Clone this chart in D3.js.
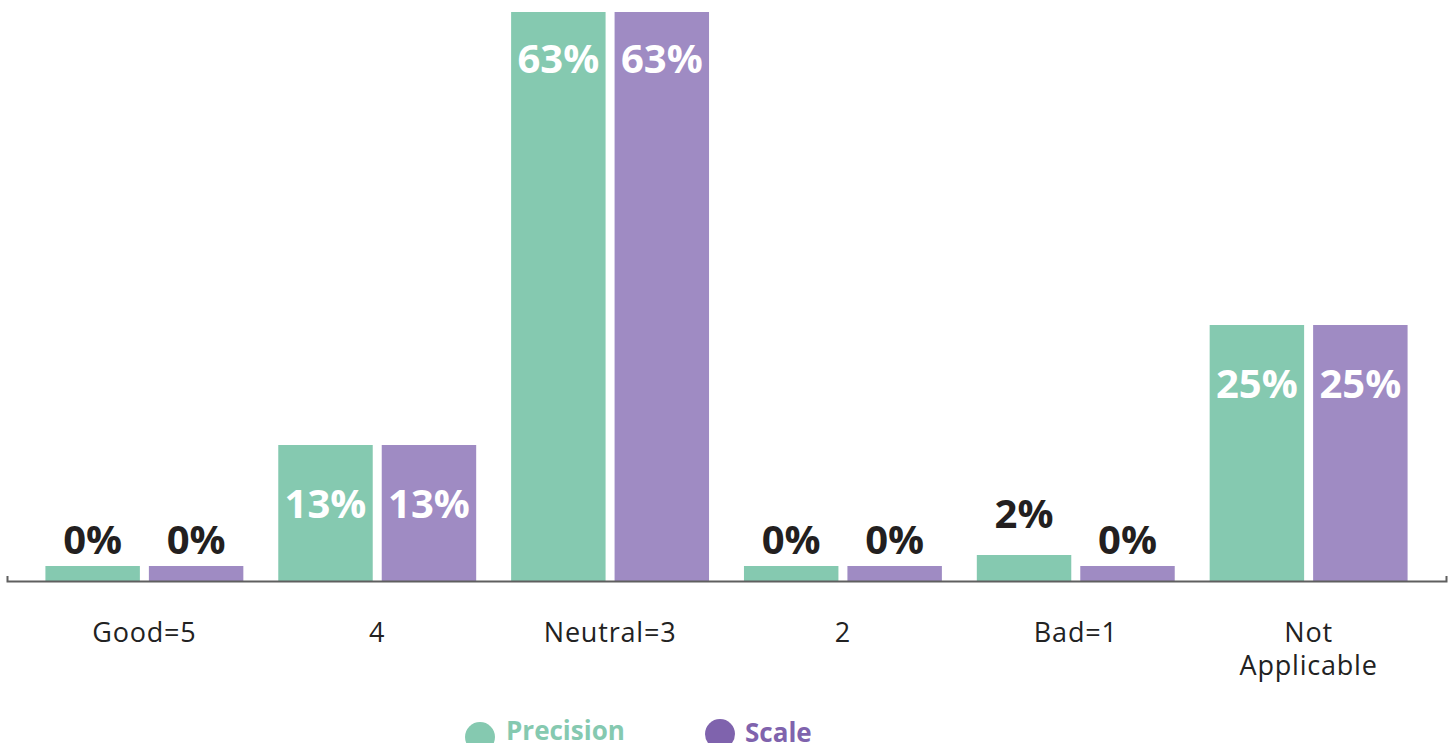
<!DOCTYPE html>
<html><head><meta charset="utf-8">
<script src="https://cdn.jsdelivr.net/npm/d3@7"></script>
<style>html,body{margin:0;padding:0;background:#fff;}svg{display:block;}</style>
</head><body>
<svg id="c" width="1453" height="743"></svg>
<script>
const categories = ["Good=5", "4", "Neutral=3", "2", "Bad=1", "Not Applicable"];
const seriesNames = ["Precision", "Scale"];
const precision = [0, 13, 63, 0, 2, 25];
const scale = [0, 13, 63, 0, 0, 25];
const barColors = ["#85c9b0", "#9f8bc3"];
const legendColors = ["#85c9b0", "#7f63ad"];

const svg = d3.select("#c");
const baseY = 581, minH = 15;
const x0 = d3.scaleBand().domain(categories).range([7, 1446]).paddingInner(0.15).paddingOuter(0.165);
const x1 = d3.scaleBand().domain(seriesNames).range([0, x0.bandwidth()]).paddingInner(0.087);
const y = d3.scaleLinear().domain([0, 56.3]).range([575, 12]).clamp(true);

const rows = categories.map((c, i) => ({cat: c, vals: [precision[i], scale[i]]}));
const g = svg.selectAll("g.grp").data(rows).join("g").attr("class","grp")
  .attr("transform", d => `translate(${x0(d.cat)},0)`);
const bars = g.selectAll("g.bar").data(d => d.vals.map((v, j) => ({v, s: seriesNames[j], j}))).join("g").attr("class","bar");
const barTop = d => Math.min(y(d.v), baseY - minH);
bars.append("rect")
  .attr("x", d => x1(d.s)).attr("width", x1.bandwidth())
  .attr("y", barTop).attr("height", d => baseY - barTop(d))
  .attr("fill", d => barColors[d.j]);
bars.append("text")
  .attr("x", d => x1(d.s) + x1.bandwidth()/2)
  .attr("y", d => d.v >= 10 ? barTop(d) + (y(d.v) <= 12 ? 61 : 73) : y(d.v) - 21 - (d.v > 0 ? 6 : 0))
  .attr("text-anchor", "middle")
  .attr("font-family", "'Open Sans', sans-serif").attr("font-weight", 700).attr("font-size", 40)
  .attr("fill", d => d.v >= 10 ? "#ffffff" : "#231f20")
  .text(d => d.v + "%");

// axis
const ax = svg.append("g").attr("transform", `translate(0,${baseY})`)
  .call(d3.axisBottom(x0).tickSize(0).tickSizeOuter(-5).tickFormat(""));
ax.select(".domain").attr("stroke", "#5f5f5f").attr("stroke-width", 2);
ax.selectAll(".tick text").remove();
const labs = svg.selectAll("text.cat").data(categories).join("text").attr("class","cat")
  .attr("x", d => x0(d) + x0.bandwidth()/2).attr("y", 642)
  .attr("text-anchor","middle").attr("font-family","'Open Sans', sans-serif").attr("font-size", 27)
  .attr("letter-spacing", 0.8).attr("fill","#222");
labs.each(function(d){
  const words = d === "Not Applicable" ? ["Not","Applicable"] : [d];
  const t = d3.select(this);
  words.forEach((w, k) => t.append("tspan").attr("x", x0(d) + x0.bandwidth()/2).attr("dy", k ? 33 : 0).text(w));
});

// legend
const legX = [480, 720], legY = [737, 734], legTX = [506, 745];
const leg = svg.selectAll("g.leg").data(seriesNames).join("g").attr("class","leg");
leg.append("circle").attr("cx", (d,i) => legX[i]).attr("cy", (d,i) => legY[i]).attr("r", 15).attr("fill", (d,i) => legendColors[i]);
leg.append("text").attr("x", (d,i) => legTX[i]).attr("y", (d,i) => i ? 742 : 740)
  .attr("font-family","'Open Sans', sans-serif").attr("font-weight",700).attr("font-size",26)
  .attr("fill", (d,i) => legendColors[i]).text(d => d);
</script>
</body></html>
